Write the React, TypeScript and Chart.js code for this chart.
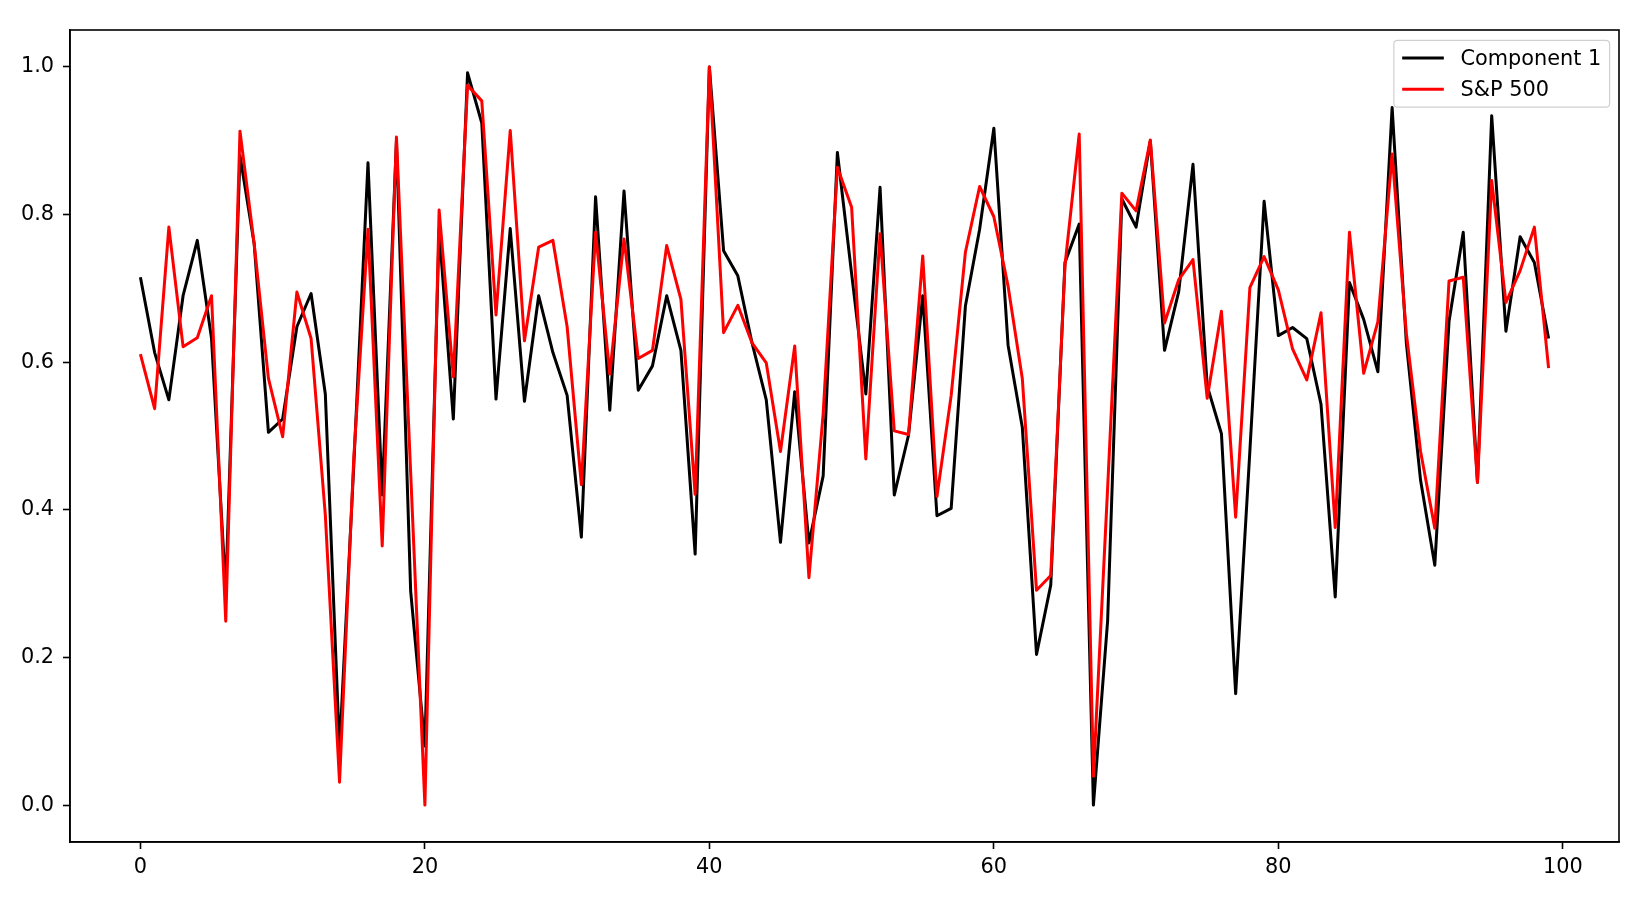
import React, { useEffect, useRef } from "react";
import { Chart, registerables } from "chart.js";

Chart.register(...registerables);

const component1: number[] = [
  0.715, 0.613, 0.549, 0.690, 0.765, 0.632, 0.290, 0.880, 0.760, 0.505,
  0.523, 0.648, 0.693, 0.557, 0.075, 0.460, 0.870, 0.420, 0.900, 0.290,
  0.080, 0.780, 0.523, 0.992, 0.924, 0.550, 0.781, 0.547, 0.690, 0.613,
  0.555, 0.363, 0.824, 0.535, 0.832, 0.562, 0.595, 0.690, 0.616, 0.340,
  1.000, 0.751, 0.717, 0.626, 0.549, 0.356, 0.560, 0.355, 0.446, 0.884,
  0.720, 0.557, 0.837, 0.420, 0.501, 0.690, 0.392, 0.402, 0.676, 0.780,
  0.917, 0.623, 0.512, 0.204, 0.298, 0.735, 0.787, 0.000, 0.250, 0.821,
  0.783, 0.900, 0.616, 0.696, 0.868, 0.568, 0.503, 0.151, 0.480, 0.818,
  0.636, 0.647, 0.632, 0.543, 0.282, 0.708, 0.658, 0.587, 0.945, 0.626,
  0.440, 0.325, 0.655, 0.776, 0.437, 0.934, 0.642, 0.770, 0.735, 0.632,
];

const sp500: number[] = [
  0.611, 0.537, 0.783, 0.621, 0.633, 0.690, 0.249, 0.913, 0.760, 0.578,
  0.499, 0.695, 0.632, 0.393, 0.031, 0.470, 0.780, 0.351, 0.905, 0.450,
  0.000, 0.806, 0.580, 0.975, 0.954, 0.664, 0.914, 0.629, 0.756, 0.765,
  0.648, 0.434, 0.776, 0.584, 0.767, 0.605, 0.616, 0.758, 0.685, 0.421,
  1.000, 0.640, 0.677, 0.626, 0.599, 0.479, 0.622, 0.308, 0.530, 0.864,
  0.810, 0.469, 0.774, 0.507, 0.502, 0.744, 0.418, 0.555, 0.749, 0.838,
  0.797, 0.703, 0.578, 0.291, 0.311, 0.731, 0.909, 0.039, 0.430, 0.829,
  0.805, 0.901, 0.653, 0.712, 0.739, 0.551, 0.669, 0.390, 0.701, 0.743,
  0.698, 0.618, 0.576, 0.667, 0.376, 0.776, 0.585, 0.655, 0.882, 0.639,
  0.479, 0.375, 0.710, 0.715, 0.437, 0.846, 0.681, 0.724, 0.783, 0.592,
];

const seriesLabels: string[] = ["Component 1", "S&P 500"];
const seriesColors: string[] = ["#000000", "#ff0000"];
const xTicks: number[] = [0, 20, 40, 60, 80, 100];
const yTicks: number[] = [0.0, 0.2, 0.4, 0.6, 0.8, 1.0];

const FONT_SIZE = 20.83;
const FONT_FAMILY = "'DejaVu Sans', sans-serif";

const framePlugin = {
  id: "mplFrame",
  afterDraw(chart: any) {
    const { ctx, chartArea } = chart;
    ctx.save();
    ctx.strokeStyle = "#000000";
    ctx.lineWidth = 1.6;
    ctx.strokeRect(chartArea.left, chartArea.top, chartArea.right - chartArea.left, chartArea.bottom - chartArea.top);
    ctx.restore();
  },
};

const legendPlugin = {
  id: "mplLegend",
  afterDraw(chart: any) {
    const { ctx, chartArea } = chart;
    const em = FONT_SIZE;
    const datasets = chart.data.datasets;
    ctx.save();
    ctx.font = `${FONT_SIZE}px ${FONT_FAMILY}`;
    let maxW = 0;
    datasets.forEach((d: any) => {
      maxW = Math.max(maxW, ctx.measureText(d.label).width);
    });
    const pad = 0.4 * em;
    const handleLen = 2 * em;
    const handlePad = 0.8 * em;
    const rowH = 1.5 * em;
    const boxW = pad + handleLen + handlePad + maxW + pad;
    const boxH = pad * 2 + em * datasets.length + 0.5 * em * (datasets.length - 1) - 2;
    const right = chartArea.right - 0.45 * em;
    const left = right - boxW;
    const top = chartArea.top + 0.5 * em;
    const r = 4;
    ctx.beginPath();
    ctx.moveTo(left + r, top);
    ctx.lineTo(left + boxW - r, top);
    ctx.quadraticCurveTo(left + boxW, top, left + boxW, top + r);
    ctx.lineTo(left + boxW, top + boxH - r);
    ctx.quadraticCurveTo(left + boxW, top + boxH, left + boxW - r, top + boxH);
    ctx.lineTo(left + r, top + boxH);
    ctx.quadraticCurveTo(left, top + boxH, left, top + boxH - r);
    ctx.lineTo(left, top + r);
    ctx.quadraticCurveTo(left, top, left + r, top);
    ctx.closePath();
    ctx.fillStyle = "rgba(255,255,255,0.8)";
    ctx.fill();
    ctx.strokeStyle = "#d0d0d0";
    ctx.lineWidth = 1.2;
    ctx.stroke();
    datasets.forEach((d: any, i: number) => {
      const cy = top + pad + 0.45 * em + i * rowH;
      ctx.beginPath();
      ctx.moveTo(left + pad, cy);
      ctx.lineTo(left + pad + handleLen, cy);
      ctx.strokeStyle = d.borderColor;
      ctx.lineWidth = 3;
      ctx.stroke();
      ctx.fillStyle = "#000000";
      ctx.textAlign = "left";
      ctx.textBaseline = "middle";
      ctx.fillText(d.label, left + pad + handleLen + handlePad, cy + 1);
    });
    ctx.restore();
  },
};

export default function App() {
  const canvasRef = useRef<HTMLCanvasElement | null>(null);

  useEffect(() => {
    if (!canvasRef.current) return;
    const toPoints = (arr: number[]) => arr.map((v, i) => ({ x: i, y: v }));
    const chart = new Chart(canvasRef.current, {
      type: "line",
      data: {
        datasets: [
          {
            label: seriesLabels[0],
            data: toPoints(component1),
            borderColor: seriesColors[0],
            backgroundColor: seriesColors[0],
            borderWidth: 3,
            pointRadius: 0,
            tension: 0,
            borderJoinStyle: "round",
            order: 1,
          },
          {
            label: seriesLabels[1],
            data: toPoints(sp500),
            borderColor: seriesColors[1],
            backgroundColor: seriesColors[1],
            borderWidth: 3,
            pointRadius: 0,
            tension: 0,
            borderJoinStyle: "round",
            order: 0,
          },
        ],
      },
      options: {
        animation: false,
        responsive: false,
        devicePixelRatio: 1,
        layout: { padding: { left: 0, right: 31, top: 30, bottom: 0 } },
        plugins: {
          legend: { display: false },
          tooltip: { enabled: false },
        },
        scales: {
          x: {
            type: "linear",
            min: -4.95,
            max: 103.95,
            afterBuildTicks: (scale: any) => {
              scale.ticks = xTicks.map((v) => ({ value: v }));
            },
            afterFit: (scale: any) => {
              scale.height = 58;
            },
            grid: {
              drawOnChartArea: false,
              drawTicks: true,
              tickLength: 7,
              tickWidth: 1.6,
              tickColor: "#000000",
            },
            border: { display: true, color: "#000000", width: 1.6 },
            ticks: {
              color: "#000000",
              padding: 6,
              maxRotation: 0,
              autoSkip: false,
              font: { family: FONT_FAMILY, size: FONT_SIZE },
              callback: (v: any) => String(v),
            },
          },
          y: {
            type: "linear",
            min: -0.05,
            max: 1.05,
            afterBuildTicks: (scale: any) => {
              scale.ticks = yTicks.map((v) => ({ value: v }));
            },
            afterFit: (scale: any) => {
              scale.width = 70;
            },
            grid: {
              drawOnChartArea: false,
              drawTicks: true,
              tickLength: 7,
              tickWidth: 1.6,
              tickColor: "#000000",
            },
            border: { display: true, color: "#000000", width: 1.6 },
            ticks: {
              color: "#000000",
              padding: 9,
              autoSkip: false,
              font: { family: FONT_FAMILY, size: FONT_SIZE },
              callback: (v: any) => Number(v).toFixed(1),
            },
          },
        },
      },
      plugins: [framePlugin, legendPlugin],
    } as any);
    return () => chart.destroy();
  }, []);

  return (
    <div style={{ position: "fixed", left: 0, top: 0, width: 1650, height: 900, background: "#ffffff" }}>
      <canvas ref={canvasRef} width={1650} height={900} style={{ width: 1650, height: 900, display: "block" }} />
    </div>
  );
}
